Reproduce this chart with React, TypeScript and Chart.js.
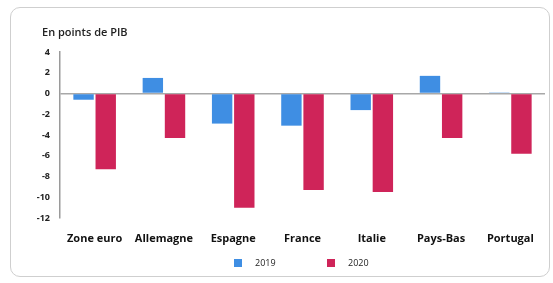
import React, { useEffect, useRef } from "react";
import { Chart, registerables } from "chart.js";

Chart.register(...registerables);

const categories = ["Zone euro", "Allemagne", "Espagne", "France", "Italie", "Pays-Bas", "Portugal"];
const values2019 = [-0.6, 1.5, -2.9, -3.1, -1.6, 1.7, 0.1];
const values2020 = [-7.3, -4.3, -11.0, -9.3, -9.5, -4.3, -5.8];
const seriesLabels = ["2019", "2020"];
const yMin = -12;
const yMax = 4;
const yStep = 2;
const titleText = "En points de PIB";

const BLUE = "#3f8ee3";
const RED = "#cf2459";
const FONT = "'Open Sans', 'DejaVu Sans', sans-serif";

export default function App() {
  const ref = useRef<HTMLCanvasElement | null>(null);

  useEffect(() => {
    document.body.style.margin = "0";
    const canvas = ref.current;
    if (!canvas) return;

    const overlay = {
      id: "overlay",
      afterDraw(chart: any) {
        const ctx = chart.ctx;
        ctx.save();
        ctx.fillStyle = "#222";
        ctx.font = `600 11px ${FONT}`;
        ctx.textBaseline = "middle";
        ctx.textAlign = "left";
        ctx.fillText(titleText, 42, 33);
        const items = chart.data.datasets;
        let x = 234;
        const y = 263;
        ctx.font = `9px ${FONT}`;
        items.forEach((ds: any) => {
          ctx.fillStyle = ds.backgroundColor;
          ctx.fillRect(x, y - 4, 8, 8);
          ctx.fillStyle = "#222";
          ctx.fillText(ds.label, x + 21, y);
          x += 93;
        });
        ctx.restore();
      },
    };

    const chart = new Chart(canvas, {
      type: "bar",
      data: {
        labels: categories,
        datasets: [
          { label: seriesLabels[0], data: values2019, backgroundColor: BLUE, categoryPercentage: 0.64, barPercentage: 0.92 },
          { label: seriesLabels[1], data: values2020, backgroundColor: RED, categoryPercentage: 0.64, barPercentage: 0.92 },
        ],
      },
      options: {
        animation: false,
        responsive: false,
        maintainAspectRatio: false,
        layout: { padding: { left: 20, right: 8, top: 52, bottom: 0 } },
        plugins: {
          legend: { display: false },
          title: { display: false },
          tooltip: { enabled: false },
        },
        scales: {
          x: {
            grid: { display: false, drawTicks: false },
            border: { display: false },
            ticks: {
              padding: 14,
              color: "#111",
              font: { family: FONT, size: 11, weight: "bold" },
              maxRotation: 0,
              autoSkip: false,
            },
            afterFit(scale: any) {
              scale.height = 65;
            },
          },
          y: {
            min: yMin,
            max: yMax,
            grid: {
              drawTicks: false,
              color: (c: any) => (c.tick && c.tick.value === 0 ? "#a8a8a8" : "rgba(0,0,0,0)"),
              lineWidth: 1.5,
            },
            border: { display: true, color: "#9a9a9a", width: 1.5 },
            ticks: {
              stepSize: yStep,
              padding: 10,
              color: "#222",
              font: { family: FONT, size: 9, weight: "bold" },
            },
            afterFit(scale: any) {
              scale.width = 40;
            },
          },
        },
      },
      plugins: [overlay],
    });

    return () => chart.destroy();
  }, []);

  return (
    <div style={{ position: "relative", width: 553, height: 283, background: "#fff", overflow: "hidden" }}>
      <div
        style={{
          position: "absolute",
          left: 10,
          top: 7,
          width: 540,
          height: 270,
          border: "1.5px solid #cfcfcf",
          borderRadius: 10,
          boxSizing: "border-box",
        }}
      />
      <canvas ref={ref} width={553} height={283} style={{ position: "absolute", left: 0, top: 0, width: 553, height: 283 }} />
    </div>
  );
}
